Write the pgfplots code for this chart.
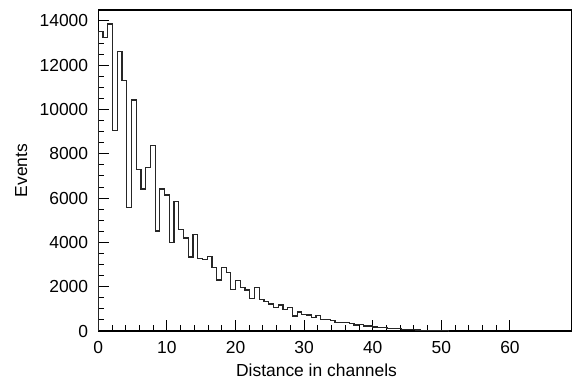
\documentclass[border=0pt]{standalone}
\usepackage{fontspec}
\setmainfont{Liberation Sans}
\usepackage{pgfplots}
\pgfplotsset{compat=1.18}
\begin{document}
\fontsize{17.5}{21}\selectfont
\begin{tikzpicture}
\begin{axis}[
  scale only axis,
  width=473.4bp, height=321bp,
  at={(0,0)}, anchor=south west,
  xmin=0, xmax=69, ymin=0, ymax=14490,
  xtick={0,10,...,60}, minor x tick num=4,
  ytick={0,2000,...,14000}, minor y tick num=3,
  tick align=inside, tick pos=left,
  major tick length=11bp, minor tick length=6bp,
  axis line style={line width=1.2bp},
  every tick/.style={line width=1bp, black},
  /pgf/number format/assume math mode=true,
  /pgf/number format/1000 sep={},
  scaled y ticks=false,
  ticklabel style={font=\fontsize{17.5}{21}\selectfont},
  yticklabel style={inner sep=0pt, xshift=-10bp},
  xticklabel style={inner sep=0pt, yshift=-10bp},
  xlabel={Distance in channels},
  ylabel={Events},
  every axis x label/.style={at={(axis description cs:0.461,0)}, anchor=base, yshift=-45bp, font=\fontsize{17.5}{21}\selectfont},
  every axis y label/.style={at={(axis description cs:-0.1627,0.5)}, anchor=center, rotate=90, font=\fontsize{17.5}{21}\selectfont},
  clip=false,
]
\addplot[const plot, line width=1.2bp, black!85] coordinates {
(0,0) (0,13520) (0.69,13260) (1.38,13860) (2.07,9060) (2.76,12610) (3.45,11290)
(4.14,5570) (4.83,10430) (5.52,7300) (6.21,6410) (6.90,7390) (7.59,8370)
(8.28,4515) (8.97,6410) (9.66,6140) (10.35,3990) (11.04,5840) (11.73,4590)
(12.42,4200) (13.11,3340) (13.80,4360) (14.49,3270) (15.18,3220) (15.87,3370)
(16.56,2860) (17.25,2300) (17.94,2860) (18.63,2650) (19.32,1880) (20.01,2290)
(20.70,1975) (21.39,1850) (22.08,1475) (22.77,1955) (23.46,1430) (24.15,1325)
(24.84,1220) (25.53,1070) (26.22,1175) (26.91,980) (27.60,1070) (28.29,680)
(28.98,860) (29.67,750) (30.36,720) (31.05,620) (31.74,710) (32.43,530)
(33.12,530) (33.81,485) (34.50,390) (35.19,390) (35.88,380) (36.57,340)
(37.26,270) (37.95,300) (38.64,225) (39.33,225) (40.02,180) (40.71,170)
(41.40,165) (42.09,120) (42.78,110) (43.47,100) (44.16,75) (44.85,65)
(45.54,55) (46.23,45) (46.92,40) (47.61,35) (48.30,30) (48.99,20)
(49.68,15) (50.37,10) (51.06,0)
};
\end{axis}
\pgfresetboundingbox
\path (-98.3bp,-49bp) rectangle (475.7bp,331bp);
\end{tikzpicture}
\end{document}
